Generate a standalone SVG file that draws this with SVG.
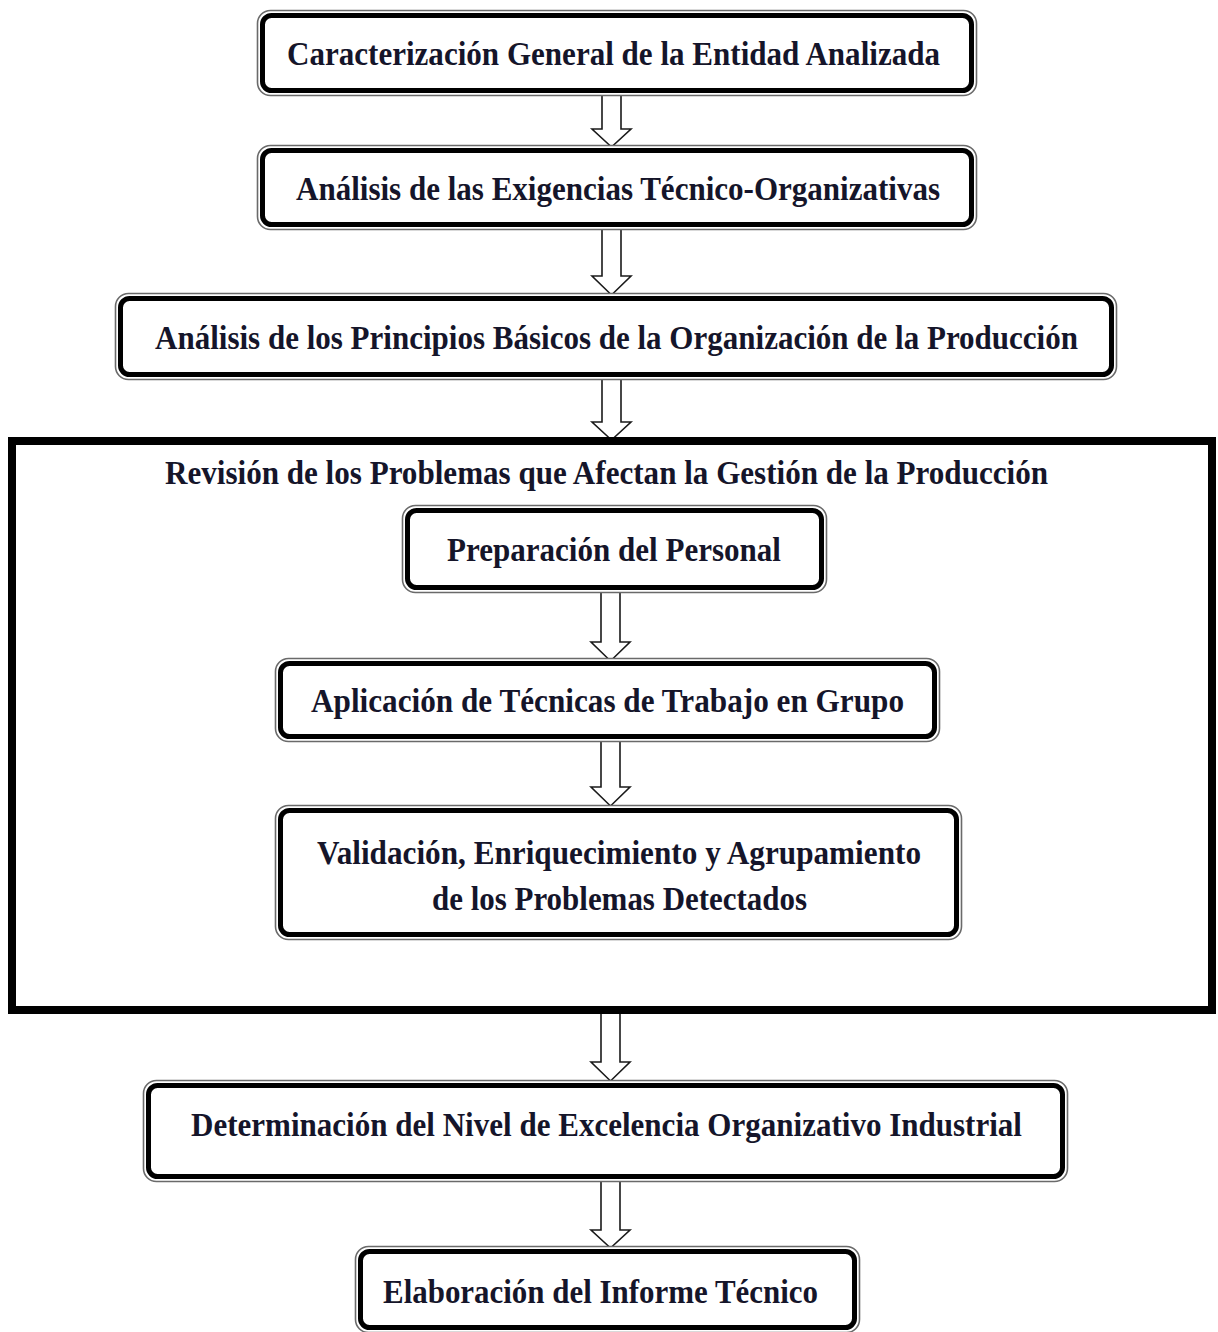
<svg xmlns="http://www.w3.org/2000/svg" width="1218" height="1332" viewBox="0 0 1218 1332">
  <style>
    .outer { fill: #ffffff; stroke: #6a6a6a; stroke-width: 1.6; }
    .inner { fill: #ffffff; stroke: #000000; stroke-width: 5; }
    .lbl { font-family: "Liberation Serif", "Times New Roman", serif; font-weight: bold; font-size: 33px; fill: #15152a; text-anchor: middle; }
    .arrow { fill: #ffffff; stroke: #1a1a1a; stroke-width: 1.6; stroke-linejoin: miter; }
    .frame { fill: none; stroke: #000000; stroke-width: 8; }
  </style>

  <!-- connectors: hollow block arrows -->
  <g id="connectors">
    <polygon class="arrow" points="602,92 621,92 621,129 631,129 611.5,147 592,129 602,129"/>
    <polygon class="arrow" points="602,228 621,228 621,276 631,276 611.5,295 592,276 602,276"/>
    <polygon class="arrow" points="602,378 621,378 621,422 631,422 611.5,440 592,422 602,422"/>
    <polygon class="arrow" points="601,590 620,590 620,642 630,642 610.5,661 591,642 601,642"/>
    <polygon class="arrow" points="601,740 620,740 620,787 630,787 610.5,806 591,787 601,787"/>
    <polygon class="arrow" points="601,1013 620,1013 620,1062 630,1062 610.5,1081 591,1062 601,1062"/>
    <polygon class="arrow" points="601,1180 620,1180 620,1230 630,1230 610.5,1248 591,1230 601,1230"/>
  </g>

  <!-- grouping frame for the problem review stage -->
  <g id="review">
    <rect class="frame" x="12" y="441" width="1200" height="569"/>
    <text class="lbl" x="606.5" y="484" textLength="883" lengthAdjust="spacingAndGlyphs">Revisión de los Problemas que Afectan la Gestión de la Producción</text>
  </g>

  <g id="caracterizacion">
    <rect class="outer" x="257.5" y="10.5" width="719" height="85" rx="13"/>
    <rect class="inner" x="262.5" y="15.5" width="709" height="75" rx="9"/>
    <text class="lbl" x="613.5" y="65" textLength="653" lengthAdjust="spacingAndGlyphs">Caracterización General de la Entidad Analizada</text>
  </g>

  <g id="exigencias">
    <rect class="outer" x="257.5" y="145.5" width="719" height="84" rx="13"/>
    <rect class="inner" x="262.5" y="150.5" width="709" height="74" rx="9"/>
    <text class="lbl" x="618" y="200" textLength="644" lengthAdjust="spacingAndGlyphs">Análisis de las Exigencias Técnico-Organizativas</text>
  </g>

  <g id="principios">
    <rect class="outer" x="115.5" y="293.5" width="1001" height="86" rx="13"/>
    <rect class="inner" x="120.5" y="298.5" width="991" height="76" rx="9"/>
    <text class="lbl" x="616.5" y="349" textLength="923" lengthAdjust="spacingAndGlyphs">Análisis de los Principios Básicos de la Organización de la Producción</text>
  </g>

  <g id="preparacion">
    <rect class="outer" x="402.5" y="505.5" width="424" height="87" rx="13"/>
    <rect class="inner" x="407.5" y="510.5" width="414" height="77" rx="9"/>
    <text class="lbl" x="614" y="561" textLength="334" lengthAdjust="spacingAndGlyphs">Preparación del Personal</text>
  </g>

  <g id="tecnicas">
    <rect class="outer" x="275.5" y="658.5" width="664" height="83" rx="13"/>
    <rect class="inner" x="280.5" y="663.5" width="654" height="73" rx="9"/>
    <text class="lbl" x="607.5" y="712" textLength="593" lengthAdjust="spacingAndGlyphs">Aplicación de Técnicas de Trabajo en Grupo</text>
  </g>

  <g id="validacion">
    <rect class="outer" x="275.5" y="805.5" width="686" height="134" rx="13"/>
    <rect class="inner" x="280.5" y="810.5" width="676" height="124" rx="9"/>
    <text class="lbl" x="619" y="864" textLength="604" lengthAdjust="spacingAndGlyphs">Validación, Enriquecimiento y Agrupamiento</text>
    <text class="lbl" x="619.5" y="910" textLength="375" lengthAdjust="spacingAndGlyphs">de los Problemas Detectados</text>
  </g>

  <g id="excelencia">
    <rect class="outer" x="143.5" y="1080.5" width="924" height="101" rx="13"/>
    <rect class="inner" x="148.5" y="1085.5" width="914" height="91" rx="9"/>
    <text class="lbl" x="606.5" y="1136" textLength="831" lengthAdjust="spacingAndGlyphs">Determinación del Nivel de Excelencia Organizativo Industrial</text>
  </g>

  <g id="informe">
    <rect class="outer" x="355.5" y="1246.5" width="504" height="86" rx="13"/>
    <rect class="inner" x="360.5" y="1251.5" width="494" height="76" rx="9"/>
    <text class="lbl" x="600.5" y="1303" textLength="435" lengthAdjust="spacingAndGlyphs">Elaboración del Informe Técnico</text>
  </g>
</svg>
